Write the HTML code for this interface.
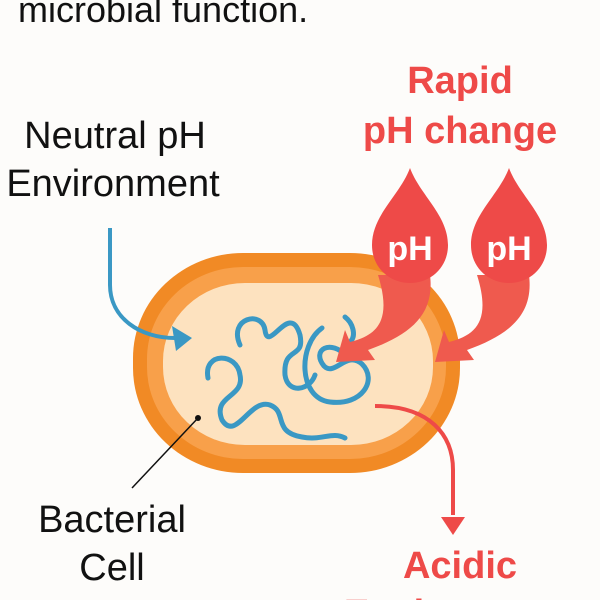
<!DOCTYPE html>
<html><head><style>
html,body{margin:0;padding:0;background:#fdfcfa;width:600px;height:600px;overflow:hidden;}
svg{display:block}
</style></head><body>
<svg width="600" height="600" viewBox="0 0 600 600" xmlns="http://www.w3.org/2000/svg" font-family="Liberation Sans, sans-serif" overflow="hidden">
<rect width="600" height="600" fill="#fdfcfa"/>
<text x="18" y="22" font-size="36" fill="#111">microbial function.</text>
<text x="115" y="148" font-size="38" fill="#111" text-anchor="middle">Neutral pH</text>
<text x="113" y="196" font-size="38" fill="#111" text-anchor="middle">Environment</text>
<text x="460" y="93" font-size="38" font-weight="bold" fill="#ee4a48" text-anchor="middle">Rapid</text>
<text x="460" y="143" font-size="38" font-weight="bold" fill="#ee4a48" text-anchor="middle">pH change</text>
<text x="112" y="532" font-size="38" fill="#111" text-anchor="middle">Bacterial</text>
<text x="112" y="580" font-size="38" fill="#111" text-anchor="middle">Cell</text>
<text x="460" y="578" font-size="38" font-weight="bold" fill="#ee4a48" text-anchor="middle">Acidic</text>
<text x="460" y="626" font-size="38" font-weight="bold" fill="#ee4a48" text-anchor="middle">Environment</text>
<!-- cell -->
<rect x="133" y="253" width="327" height="220" rx="110" ry="105" fill="#f18a25"/>
<rect x="147" y="267" width="299" height="192" rx="96" ry="92" fill="#f8a04a"/>
<rect x="163" y="283" width="270" height="162" rx="82" ry="78" fill="#fde2bf"/>
<!-- DNA -->
<g fill="none" stroke="#3a98c4" stroke-width="5" stroke-linecap="round">
<path d="M240 345 C228 318 262 310 265 330 C268 355 290 300 300 335 C305 360 283 345 285 375 C288 395 310 390 315 375"/>
<path d="M208 378 C203 352 237 352 240 375 C245 398 212 395 222 420 C236 442 250 398 270 405 C288 412 272 432 302 437 C322 441 332 431 345 438"/>
<path d="M322 328 C298 345 298 398 330 402 C362 406 378 380 362 364 C346 350 335 377 324 366 C311 350 330 338 348 357"/>
<path d="M345 317 C353 323 356 335 351 341"/>
</g>
<circle cx="198" cy="418" r="3" fill="#111"/>
<line x1="198" y1="418" x2="132" y2="488" stroke="#111" stroke-width="1.5"/>
<!-- blue arrow -->
<path d="M110 228 L110 285 C110 318 140 338 175 338" fill="none" stroke="#3a98c4" stroke-width="4"/>
<polygon points="192,338 172,326 176,351" fill="#3a98c4"/>
<!-- red arrow out -->
<path d="M375 406 C430 406 453 435 453 470 L453 515" fill="none" stroke="#ee4a48" stroke-width="4"/>
<polygon points="441,517 465,517 453,535" fill="#ee4a48"/>
<!-- pH drops -->
<g fill="#ef5a4e">
<path d="M378 275 C392 320 378 335 350 342 L345 330 L336 362 L375 360 L368 350 C410 335 435 315 430 275 Z"/>
<path d="M477 275 C491 320 477 335 449 342 L444 330 L435 362 L474 360 L467 350 C509 335 534 315 529 275 Z"/>
</g>
<g fill="#ee4a48">
<path d="M410 168 C420 195 448 215 448 245 C448 268 430 283 410 283 C390 283 372 268 372 245 C372 215 400 195 410 168 Z"/>
<path d="M509 168 C519 195 547 215 547 245 C547 268 529 283 509 283 C489 283 471 268 471 245 C471 215 499 195 509 168 Z"/>
</g>
<text x="410" y="260" font-size="34" font-weight="bold" fill="#fff" text-anchor="middle">pH</text>
<text x="509" y="260" font-size="34" font-weight="bold" fill="#fff" text-anchor="middle">pH</text>
</svg>
</body></html>
